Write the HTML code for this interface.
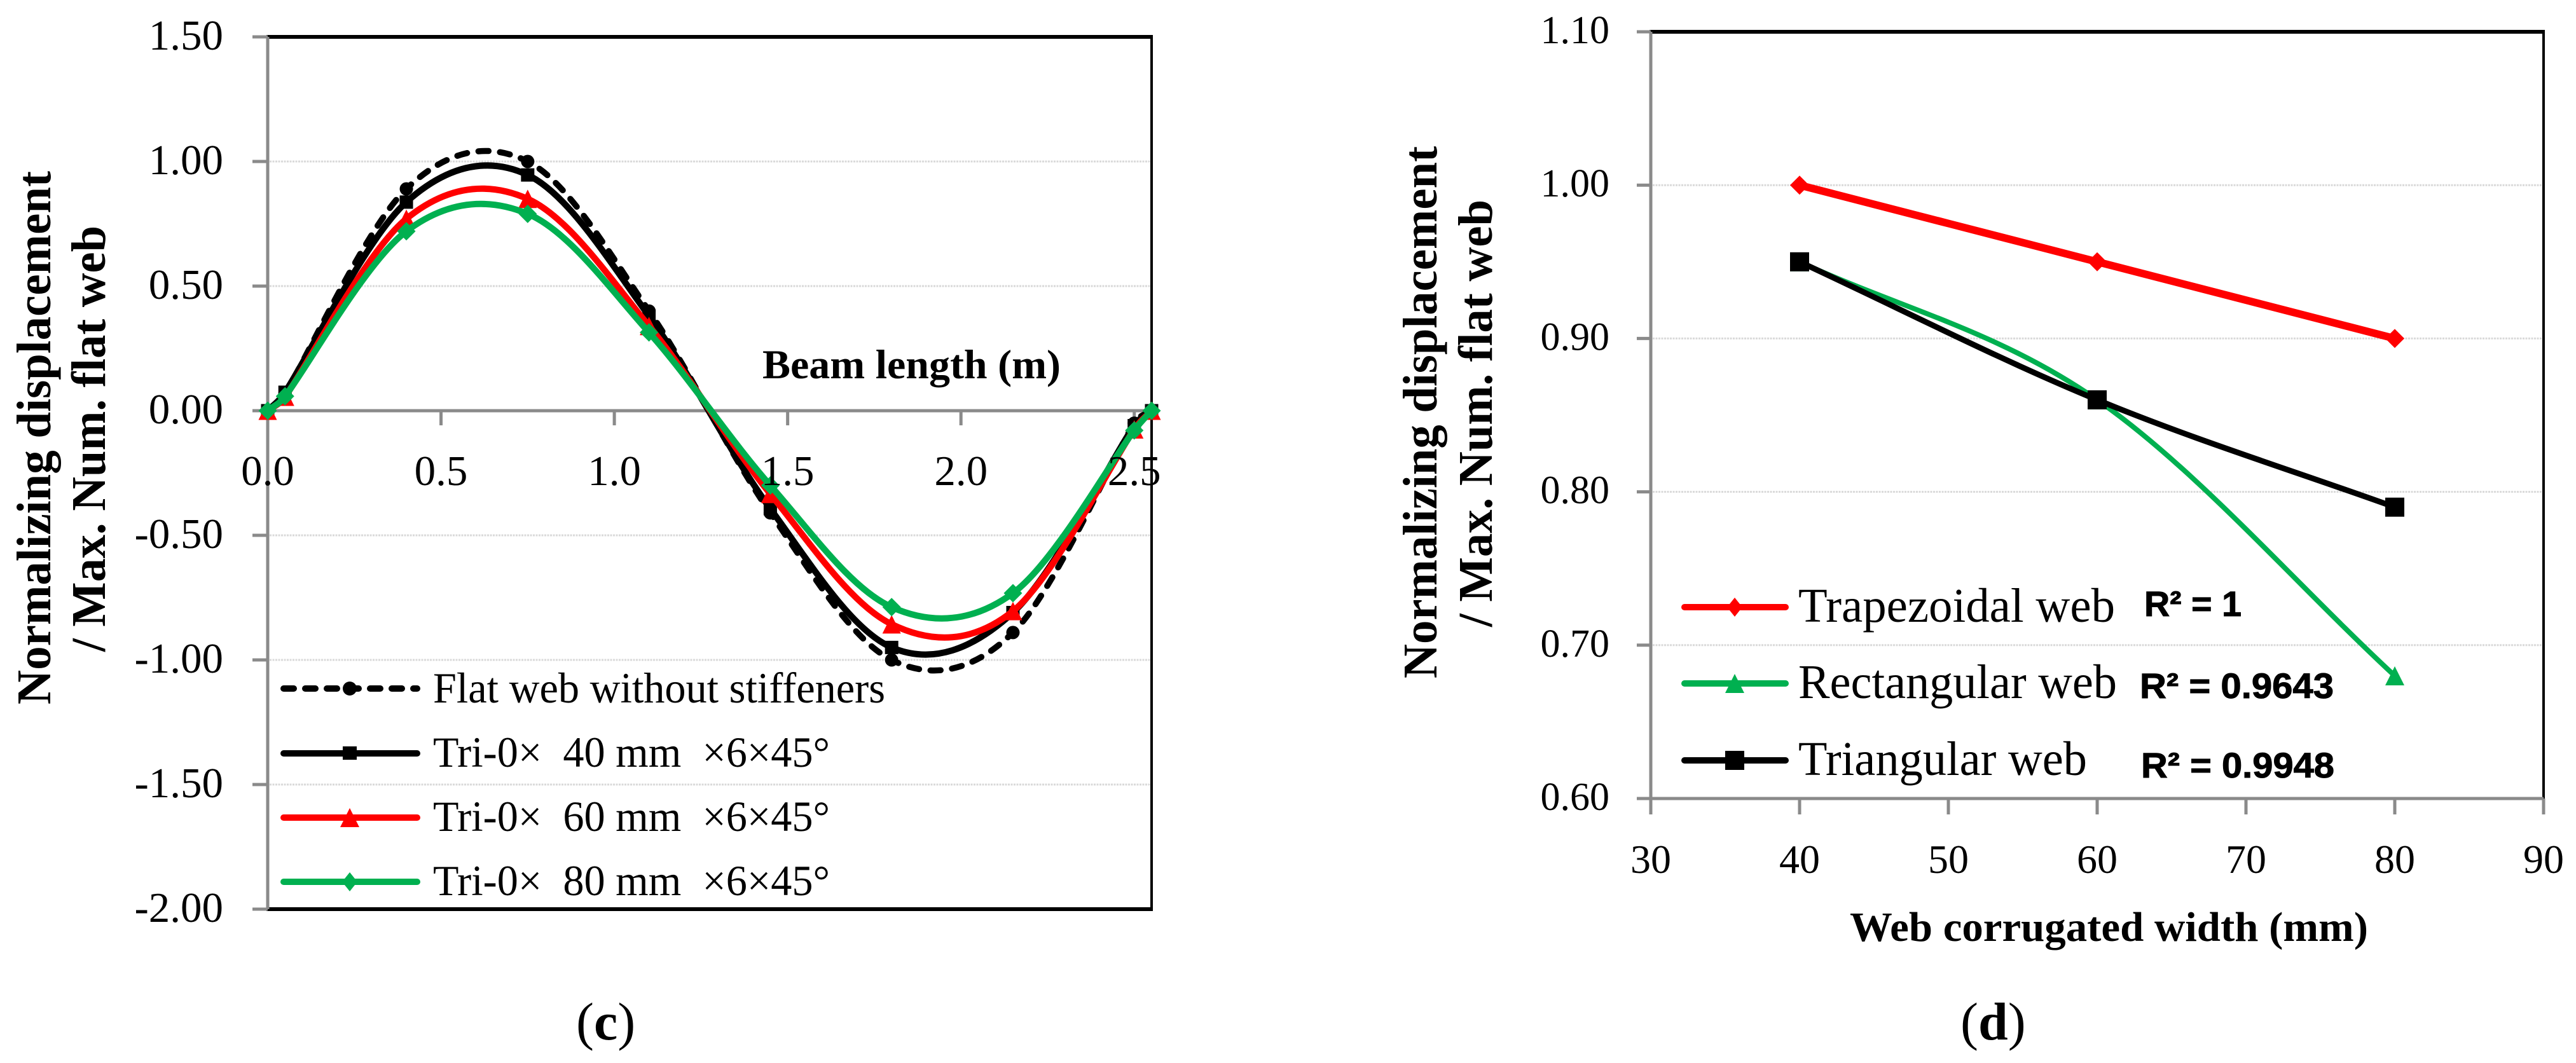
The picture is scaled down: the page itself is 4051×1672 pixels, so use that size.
<!DOCTYPE html>
<html lang="en">
<head>
<meta charset="utf-8">
<title>Normalized displacement charts (c) and (d)</title>
<style>
html,body{margin:0;padding:0;background:#fff;}
svg{display:block;}
text{font-family:"Liberation Serif",serif;fill:#000;white-space:pre;}
.bold{font-weight:bold;}
.r2{font-family:"Liberation Sans",sans-serif;font-weight:bold;stroke:#000;stroke-width:1;}
</style>
</head>
<body>
<svg id="figure" xmlns="http://www.w3.org/2000/svg" width="4051" height="1672" viewBox="0 0 4051 1672">
  <g id="chart-c"></g>
  <g id="chart-d"></g>

  <g>
    <text class="bold" font-size="76" transform="translate(79,1108) rotate(-90)" textLength="839" lengthAdjust="spacingAndGlyphs">Normalizing displacement</text>
    <text class="bold" font-size="76" transform="translate(165,1025) rotate(-90)" textLength="670" lengthAdjust="spacingAndGlyphs">/ Max. Num. flat web</text>
    <text class="bold" font-size="65" x="1199" y="595" textLength="469" lengthAdjust="spacingAndGlyphs">Beam length (m)</text>
    <text font-size="84" x="906" y="1635">(<tspan class="bold">c</tspan>)</text>
  </g>

  <g>
    <g>
      <line x1="446" y1="1083" x2="656" y2="1083" stroke="#000" stroke-width="10" stroke-linecap="round" stroke-dasharray="16 18"/>
      <circle cx="550" cy="1083" r="11" fill="#000"/>
      <text font-size="68" x="681" y="1105" textLength="711" lengthAdjust="spacingAndGlyphs">Flat web without stiffeners</text>
    </g>
    <g>
      <line x1="446" y1="1185" x2="656" y2="1185" stroke="#000" stroke-width="10" stroke-linecap="round"/>
      <rect x="539" y="1174" width="22" height="21" fill="#000"/>
      <text font-size="68" x="681" y="1206" textLength="624" lengthAdjust="spacingAndGlyphs">Tri-0×  40 mm  ×6×45°</text>
    </g>
    <g>
      <line x1="446" y1="1286" x2="656" y2="1286" stroke="#f00" stroke-width="10" stroke-linecap="round"/>
      <polygon points="550,1271 565,1301 535,1301" fill="#f00"/>
      <text font-size="68" x="681" y="1307" textLength="624" lengthAdjust="spacingAndGlyphs">Tri-0×  60 mm  ×6×45°</text>
    </g>
    <g>
      <line x1="446" y1="1387" x2="656" y2="1387" stroke="#00b050" stroke-width="10" stroke-linecap="round"/>
      <polygon points="550,1372 562,1387 550,1402 538,1387" fill="#00b050"/>
      <text font-size="68" x="681" y="1408" textLength="624" lengthAdjust="spacingAndGlyphs">Tri-0×  80 mm  ×6×45°</text>
    </g>
  </g>

  <g>
    <text class="bold" font-size="76" transform="translate(2259,1067) rotate(-90)" textLength="837" lengthAdjust="spacingAndGlyphs">Normalizing displacement</text>
    <text class="bold" font-size="76" transform="translate(2346,986) rotate(-90)" textLength="672" lengthAdjust="spacingAndGlyphs">/ Max. Num. flat web</text>
    <text class="bold" font-size="66" x="2909" y="1480" textLength="815" lengthAdjust="spacingAndGlyphs">Web corrugated width (mm)</text>
    <text font-size="84" x="3083" y="1635">(<tspan class="bold">d</tspan>)</text>
  </g>

  <g>
    <g>
      <line x1="2649" y1="955" x2="2808" y2="955" stroke="#f00" stroke-width="10" stroke-linecap="round"/>
      <polygon points="2728,940 2740,955 2728,970 2716,955" fill="#f00"/>
      <text font-size="76" x="2828" y="978" textLength="498" lengthAdjust="spacingAndGlyphs">Trapezoidal web</text>
      <text class="r2" font-size="56" x="3372" y="969" textLength="153" lengthAdjust="spacingAndGlyphs">R² = 1</text>
    </g>
    <g>
      <line x1="2649" y1="1075" x2="2808" y2="1075" stroke="#00b050" stroke-width="10" stroke-linecap="round"/>
      <polygon points="2728,1060 2743,1090 2713,1090" fill="#00b050"/>
      <text font-size="76" x="2828" y="1098" textLength="501" lengthAdjust="spacingAndGlyphs">Rectangular web</text>
      <text class="r2" font-size="56" x="3365" y="1098" textLength="305" lengthAdjust="spacingAndGlyphs">R² = 0.9643</text>
    </g>
    <g>
      <line x1="2649" y1="1196" x2="2808" y2="1196" stroke="#000" stroke-width="10" stroke-linecap="round"/>
      <rect x="2713" y="1181" width="30" height="30" fill="#000"/>
      <text font-size="76" x="2828" y="1219" textLength="454" lengthAdjust="spacingAndGlyphs">Triangular web</text>
      <text class="r2" font-size="56" x="3367" y="1223" textLength="304" lengthAdjust="spacingAndGlyphs">R² = 0.9948</text>
    </g>
  </g>
</svg>

<script>
// ---- Chart (c) data ----
var cBeamPositions = [0, 0.05, 0.4, 0.75, 1.1, 1.45, 1.8, 2.15, 2.5, 2.55];
var cFlatWeb = [0, 0.07, 0.89, 1.00, 0.40, -0.41, -1.00, -0.89, -0.05, 0];
var cTri40 = [0, 0.074, 0.837, 0.946, 0.38, -0.393, -0.95, -0.81, -0.06, 0];
var cTri60 = [0, 0.056, 0.77, 0.85, 0.34, -0.334, -0.857, -0.804, -0.075, 0];
var cTri80 = [0, 0.058, 0.72, 0.79, 0.314, -0.30, -0.788, -0.732, -0.079, 0];
var cYTicks = [1.5, 1.0, 0.5, 0, -0.5, -1.0, -1.5, -2.0];
var cYTickLabels = ["1.50", "1.00", "0.50", "0.00", "-0.50", "-1.00", "-1.50", "-2.00"];
var cXTicks = [0, 0.5, 1.0, 1.5, 2.0, 2.5];
var cXTickLabels = ["0.0", "0.5", "1.0", "1.5", "2.0", "2.5"];

// ---- Chart (d) data ----
var dWidths = [40, 60, 80];
var dTrapezoidal = [1.00, 0.95, 0.90];
var dRectangular = [0.95, 0.86, 0.68];
var dTriangular = [0.95, 0.86, 0.79];
var dYTicks = [1.1, 1.0, 0.9, 0.8, 0.7, 0.6];
var dYTickLabels = ["1.10", "1.00", "0.90", "0.80", "0.70", "0.60"];
var dXTicks = [30, 40, 50, 60, 70, 80, 90];
var dXTickLabels = ["30", "40", "50", "60", "70", "80", "90"];

var SVG_NS = "http://www.w3.org/2000/svg";
var AXIS_GRAY = "#8a8a8a";
var GRID_GRAY = "#d9d9d9";
var RED = "#ff0000";
var GREEN = "#00b050";
var BLACK = "#000000";

function make(parent, tag, attrs, text) {
  var el = document.createElementNS(SVG_NS, tag);
  for (var k in attrs) { el.setAttribute(k, attrs[k]); }
  if (text !== undefined) { el.textContent = text; }
  parent.appendChild(el);
  return el;
}

function linearScale(d0, d1, r0, r1) {
  return function (v) { return r0 + (v - d0) * (r1 - r0) / (d1 - d0); };
}

function dist(a, b) { return Math.hypot(a[0] - b[0], a[1] - b[1]); }

// Excel-style smoothed line through every point
function smoothPath(pts) {
  var n = pts.length, cIn = [], cOut = [], i;
  for (i = 1; i < n - 1; i++) {
    var a = pts[i - 1], p = pts[i], b = pts[i + 1];
    var diag = dist(a, b) || 1;
    var fIn = Math.min(1 / 6, dist(a, p) / (2 * diag));
    var fOut = Math.min(1 / 6, dist(p, b) / (2 * diag));
    var vx = b[0] - a[0], vy = b[1] - a[1];
    cIn[i] = [p[0] - vx * fIn, p[1] - vy * fIn];
    cOut[i] = [p[0] + vx * fOut, p[1] + vy * fOut];
  }
  var d = "M" + pts[0][0].toFixed(1) + " " + pts[0][1].toFixed(1);
  for (i = 0; i < n - 1; i++) {
    var p0 = pts[i], p1 = pts[i + 1], c1, c2;
    c1 = i === 0
      ? [p0[0] + (p1[0] - p0[0]) / 3, p0[1] + (p1[1] - p0[1]) / 3]
      : cOut[i];
    c2 = i === n - 2
      ? [p1[0] - (p1[0] - p0[0]) / 3, p1[1] - (p1[1] - p0[1]) / 3]
      : cIn[i + 1];
    d += "C" + c1[0].toFixed(1) + " " + c1[1].toFixed(1) + " " +
         c2[0].toFixed(1) + " " + c2[1].toFixed(1) + " " +
         p1[0].toFixed(1) + " " + p1[1].toFixed(1);
  }
  return d;
}

function drawMarker(parent, shape, x, y, size, color) {
  var h = size / 2, el;
  if (shape === "circle") {
    el = make(parent, "circle", { cx: x, cy: y, r: h, fill: color });
  } else if (shape === "square") {
    el = make(parent, "rect", { x: x - h, y: y - h, width: size, height: size, fill: color });
  } else if (shape === "triangle") {
    el = make(parent, "polygon", {
      points: x + "," + (y - h) + " " + (x + h) + "," + (y + h) + " " + (x - h) + "," + (y + h),
      fill: color
    });
  } else {
    el = make(parent, "polygon", {
      points: x + "," + (y - h) + " " + (x + h) + "," + y + " " + x + "," + (y + h) + " " + (x - h) + "," + y,
      fill: color
    });
  }
  return el;
}

function drawSeries(parent, name, xs, ys, sx, sy, style) {
  var group = make(parent, "g", {});
  
  
  var pts = xs.map(function (x, i) { return [sx(x), sy(ys[i])]; });
  var attrs = {
    d: smoothPath(pts), fill: "none", stroke: style.color,
    "stroke-width": style.width, "stroke-linejoin": "round", "stroke-linecap": "round"
  };
  if (style.dash) { attrs["stroke-dasharray"] = style.dash; }
  var line = make(group, "path", attrs);
  
  
  pts.forEach(function (p) {
    var m = drawMarker(group, style.marker, p[0], p[1], style.size, style.color);
    
    
  });
}

function drawTick(parent, x1, y1, x2, y2) {
  var t = make(parent, "line", { x1: x1, y1: y1, x2: x2, y2: y2, stroke: AXIS_GRAY, "stroke-width": 5 });
  
  
}

function drawGrid(parent, x1, x2, y) {
  var g = make(parent, "line", {
    x1: x1, y1: y, x2: x2, y2: y, stroke: GRID_GRAY, "stroke-width": 3, "stroke-dasharray": "3 1.5"
  });
  
  
}

function drawBorder(parent, x1, y1, x2, y2, color, width, name) {
  var b = make(parent, "line", { x1: x1, y1: y1, x2: x2, y2: y2, stroke: color, "stroke-width": width });
  
  
}

function drawTickLabel(parent, x, y, text, size, anchor, name) {
  var t = make(parent, "text", { x: x, y: y, "font-size": size, "text-anchor": anchor }, text);
  
  
}

// ---- Render chart (c) ----
(function () {
  var root = document.getElementById("chart-c");
  var L = 421, R = 1811, T = 58, B = 1430;
  var sx = linearScale(0, 2.55, L, R);
  var sy = linearScale(1.5, -2.0, T, B);

  cYTicks.forEach(function (v) {
    if (v !== 1.5 && v !== 0 && v !== -2.0) { drawGrid(root, L + 3, R - 2, sy(v)); }
  });
  drawBorder(root, L - 2, T, R + 2, T, BLACK, 6, 'chart-c-top-border');
  drawBorder(root, L - 2, B, R + 2, B, BLACK, 6, 'chart-c-bottom-border');
  drawBorder(root, R, T, R, B, BLACK, 4, 'chart-c-right-border');
  drawBorder(root, L, T, L, B, AXIS_GRAY, 5, 'chart-c-y-axis');
  drawBorder(root, L, sy(0), R, sy(0), AXIS_GRAY, 5, 'chart-c-x-axis');

  cYTicks.forEach(function (v) { drawTick(root, L - 24, sy(v), L, sy(v)); });
  cXTicks.forEach(function (v) { drawTick(root, sx(v), sy(0), sx(v), sy(0) + 23); });

  drawSeries(root, 'series-flat-web', cBeamPositions, cFlatWeb, sx, sy,
    { color: BLACK, width: 9.5, dash: "16 18", marker: "circle", size: 21 });
  drawSeries(root, 'series-tri-40', cBeamPositions, cTri40, sx, sy,
    { color: BLACK, width: 10, marker: "square", size: 21 });
  drawSeries(root, 'series-tri-60', cBeamPositions, cTri60, sx, sy,
    { color: RED, width: 10, marker: "triangle", size: 29 });
  drawSeries(root, 'series-tri-80', cBeamPositions, cTri80, sx, sy,
    { color: GREEN, width: 10, marker: "diamond", size: 29 });

  cYTicks.forEach(function (v, i) {
    drawTickLabel(root, 351, sy(v) + 20, cYTickLabels[i], 67, "end", 'y-tick-label');
  });
  cXTicks.forEach(function (v, i) {
    drawTickLabel(root, sx(v), 763, cXTickLabels[i], 67, "middle", 'x-tick-label');
  });
})();

// ---- Render chart (d) ----
(function () {
  var root = document.getElementById("chart-d");
  var L = 2596, R = 4000, T = 50, B = 1256;
  var sx = linearScale(30, 90, L, R);
  var sy = linearScale(1.1, 0.6, T, B);

  dYTicks.forEach(function (v) {
    if (v !== 1.1 && v !== 0.6) { drawGrid(root, L + 3, R - 2, sy(v)); }
  });
  drawBorder(root, L - 2, T, R + 2, T, BLACK, 6, 'chart-d-top-border');
  drawBorder(root, R, T, R, B, BLACK, 4, 'chart-d-right-border');
  drawBorder(root, L, T, L, B, AXIS_GRAY, 5, 'chart-d-y-axis');
  drawBorder(root, L, B, R, B, AXIS_GRAY, 5, 'chart-d-x-axis');

  dYTicks.forEach(function (v) { drawTick(root, L - 22, sy(v), L, sy(v)); });
  dXTicks.forEach(function (v) { drawTick(root, sx(v), B, sx(v), B + 25); });

  drawSeries(root, 'series-trapezoidal', dWidths, dTrapezoidal, sx, sy,
    { color: RED, width: 12, marker: "diamond", size: 30 });
  drawSeries(root, 'series-rectangular', dWidths, dRectangular, sx, sy,
    { color: GREEN, width: 8, marker: "triangle", size: 30 });
  drawSeries(root, 'series-triangular', dWidths, dTriangular, sx, sy,
    { color: BLACK, width: 9, marker: "square", size: 30 });

  dYTicks.forEach(function (v, i) {
    drawTickLabel(root, 2531, sy(v) + 18, dYTickLabels[i], 62, "end", 'y-tick-label');
  });
  dXTicks.forEach(function (v, i) {
    drawTickLabel(root, sx(v), 1373, dXTickLabels[i], 64, "middle", 'x-tick-label');
  });
})();
</script>
</body>
</html>
